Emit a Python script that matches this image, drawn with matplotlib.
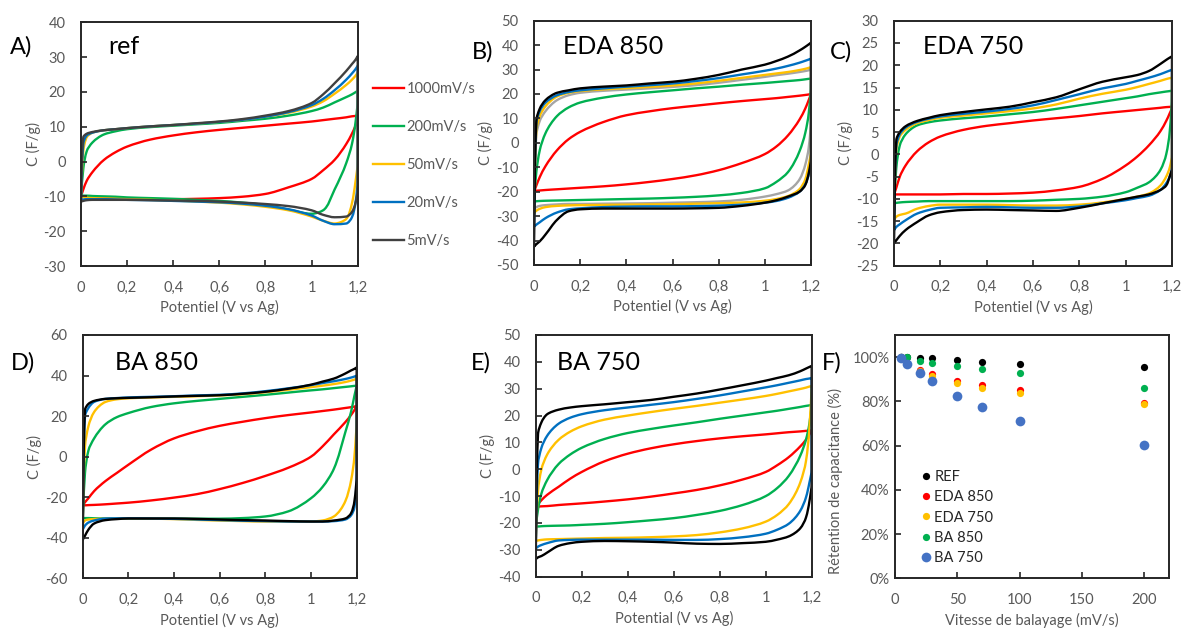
import matplotlib
matplotlib.use("Agg")
import numpy as np
import matplotlib.pyplot as plt
from matplotlib.ticker import FuncFormatter, MultipleLocator
from matplotlib.lines import Line2D
from matplotlib.path import Path
from matplotlib.patches import PathPatch

# ---------------- data ----------------
E = [0, 0.01, 0.025, 0.05, 0.1, 0.15, 0.2, 0.3, 0.4, 0.5, 0.6, 0.7, 0.8, 0.9,
     1.0, 1.05, 1.1, 1.15, 1.175, 1.19, 1.2]

rate_labels = ["1000mV/s", "200mV/s", "50mV/s", "20mV/s", "5mV/s"]

# Panel A : ref  (red, green, orange, blue, dark grey)
A_up = [
    [-10, -8, -5.5, -3, 0.5, 2.7, 4.3, 6.3, 7.5, 8.4, 9.1, 9.7, 10.3, 10.9, 11.5, 11.9, 12.3, 12.7, 13.0, 13.1, 13.2],
    [-10, -2, 3, 5.5, 7.8, 8.7, 9.3, 9.9, 10.3, 10.7, 11.1, 11.7, 12.3, 13.2, 14.5, 15.5, 17.0, 18.5, 19.3, 19.9, 20.3],
    [-10, 3, 7, 8.3, 9.0, 9.3, 9.6, 10.1, 10.5, 10.9, 11.4, 12.0, 12.9, 14.0, 15.8, 17.3, 19.5, 22.0, 23.5, 24.6, 25.5],
    [-11, 5, 7.5, 8.3, 9.0, 9.3, 9.6, 10.1, 10.5, 10.9, 11.4, 12.0, 12.9, 14.2, 16.2, 18.0, 20.5, 23.5, 25.3, 26.5, 27.5],
    [-11.5, 7, 8, 8.5, 9.0, 9.3, 9.6, 10.1, 10.5, 11.0, 11.5, 12.2, 13.2, 14.5, 16.8, 19.3, 22.5, 26.0, 28.0, 29.2, 30.3],
]
A_dn = [
    [-10, -10.1, -10.2, -10.3, -10.5, -10.6, -10.7, -10.8, -10.8, -10.7, -10.5, -10.1, -9.3, -7.4, -5.0, -2.5, 0.5, 5.0, 8.0, 10.2, 12.0],
    [-9.7, -9.8, -9.8, -9.9, -10.0, -10.1, -10.3, -10.5, -10.7, -11.0, -11.3, -11.8, -12.5, -13.8, -15.0, -14.0, -8.0, -0.5, 5.0, 11.0, 18.0],
    [-10.0, -10.2, -10.4, -10.5, -10.6, -10.7, -10.8, -11.0, -11.2, -11.5, -11.8, -12.3, -13.0, -14.0, -15.8, -17.0, -17.8, -16.5, -12.0, -6.0, 0],
    [-11.0, -10.9, -10.8, -10.8, -10.8, -10.9, -11.0, -11.1, -11.3, -11.5, -11.7, -12.1, -12.7, -13.7, -15.5, -17.0, -18.0, -17.8, -16.0, -12.0, -5.0],
    [-11.5, -11.3, -11.1, -11.0, -11.0, -11.0, -11.0, -11.1, -11.2, -11.3, -11.5, -11.8, -12.2, -12.8, -14.0, -15.3, -16.0, -15.8, -14.5, -12.0, -8.0],
]

# Panel B : EDA 850 (red, green, grey, orange, blue, black)
B_up = [
    [-20, -17.5, -14, -9.5, -3, 1.5, 4.5, 8.5, 11.3, 12.9, 14.2, 15.2, 16.2, 17.1, 17.9, 18.3, 18.8, 19.3, 19.6, 19.8, 20.0],
    [-24, -12, -3, 4, 11, 14.5, 16.5, 18.5, 19.8, 20.7, 21.5, 22.3, 23, 23.8, 24.5, 24.9, 25.3, 25.7, 26.0, 26.2, 26.3],
    [-27, 3, 9, 13, 17.5, 19.5, 20.5, 21.3, 21.8, 22.3, 22.9, 23.6, 24.6, 25.8, 27.0, 27.7, 28.3, 29.0, 29.4, 29.7, 30.0],
    [-29, 5, 11, 15, 19, 20.5, 21.2, 21.9, 22.4, 22.9, 23.5, 24.3, 25.4, 26.6, 27.8, 28.4, 29.0, 29.8, 30.3, 30.7, 31.0],
    [-34, 8, 13, 16.5, 19.5, 20.8, 21.5, 22.3, 23.0, 23.6, 24.3, 25.3, 26.5, 28.0, 29.5, 30.4, 31.5, 32.8, 33.6, 34.1, 34.5],
    [-42.5, 9, 14, 17.5, 20.5, 21.5, 22.3, 23.0, 23.5, 24.3, 25.0, 26.2, 27.8, 30.0, 32.0, 33.5, 35.3, 37.8, 39.3, 40.3, 41.0],
]
B_dn = [
    [-19.8, -19.6, -19.5, -19.3, -19.0, -18.7, -18.4, -17.8, -17.0, -16.0, -14.8, -13.3, -11.2, -8.3, -4.6, -1.5, 3.0, 9.5, 14.0, 17.5, 20.0],
    [-24, -23.9, -23.8, -23.7, -23.6, -23.5, -23.4, -23.2, -23.0, -22.8, -22.5, -22.1, -21.5, -20.5, -18.6, -16.0, -12.0, -3.5, 4.0, 12.0, 25.0],
    [-27, -26.3, -25.8, -25.5, -25.2, -25.0, -25.0, -24.9, -24.8, -24.7, -24.5, -24.3, -24.0, -23.3, -22.0, -21.0, -19.5, -15.0, -9.0, -2.0, 10.0],
    [-28.9, -27.8, -27.0, -26.3, -25.8, -25.6, -25.5, -25.4, -25.3, -25.2, -25.1, -24.9, -24.7, -24.4, -23.7, -23.0, -21.8, -19.0, -15.0, -9.0, -3.0],
    [-34.3, -33.5, -32.5, -30.8, -28.5, -27.2, -26.8, -26.3, -26.1, -26.0, -26.0, -25.9, -25.7, -25.3, -24.5, -23.8, -22.5, -20.0, -17.0, -13.0, -8.0],
    [-42.5, -41.5, -40.3, -37.5, -31.5, -28.0, -27.2, -26.9, -26.9, -26.9, -26.9, -26.8, -26.6, -25.8, -24.5, -23.5, -22.0, -20.0, -17.3, -12.5, -6.0],
]

# Panel C : EDA 750 (red, green, orange, blue, black)
C_up = [
    [-9, -7.5, -5, -2.5, 0.7, 2.7, 4, 5.5, 6.4, 7, 7.6, 8.1, 8.6, 9.2, 9.7, 9.95, 10.2, 10.45, 10.6, 10.65, 10.7],
    [-11, -3, 2, 4.5, 6.5, 7.2, 7.6, 8.1, 8.5, 9.0, 9.5, 10.2, 11.0, 11.8, 12.6, 13.0, 13.5, 13.9, 14.1, 14.2, 14.3],
    [-14.7, 1, 4, 5.5, 7, 7.7, 8.2, 8.7, 9.2, 9.7, 10.3, 11.2, 12.5, 13.6, 14.5, 15.1, 15.8, 16.5, 16.9, 17.1, 17.2],
    [-17, 2, 4.5, 6, 7.3, 8.0, 8.5, 9.1, 9.6, 10.2, 11.0, 12.2, 13.5, 14.8, 15.8, 16.5, 17.2, 18.0, 18.5, 18.8, 19.0],
    [-20, 3.2, 5, 6.3, 7.5, 8.2, 8.8, 9.5, 10.1, 10.7, 11.7, 12.8, 14.6, 16.3, 17.3, 17.8, 18.7, 20.3, 21.2, 21.7, 22.0],
]
C_dn = [
    [-9, -9, -9, -9, -9, -9, -9, -8.9, -8.9, -8.8, -8.6, -8.1, -7.3, -5.5, -2.5, -0.5, 2.0, 5.2, 7.5, 9.2, 10.6],
    [-11, -10.9, -10.8, -10.7, -10.6, -10.5, -10.5, -10.5, -10.5, -10.5, -10.4, -10.2, -10.0, -9.5, -8.5, -7.5, -6.3, -3.5, 0, 5, 14],
    [-14.7, -14.0, -13.6, -13.3, -12.2, -11.6, -11.3, -11.3, -11.3, -11.4, -11.5, -11.5, -11.3, -10.8, -10.0, -9.5, -8.8, -7.0, -5.0, -3.0, 0],
    [-17, -16.3, -15.7, -14.8, -13.3, -12.5, -12.0, -11.9, -11.8, -11.9, -12.0, -12.0, -11.7, -11.0, -10.3, -9.8, -9.3, -8.0, -6.5, -5.0, -3.0],
    [-20, -19.3, -18.3, -17, -15.2, -13.7, -13.0, -12.5, -12.4, -12.5, -12.6, -12.7, -12.0, -11.0, -10.0, -9.5, -9.0, -8.0, -7.0, -5.0, -3.0],
]

# Panel D : BA 850 (red, green, orange, blue, black)
D_up = [
    [-24, -22.5, -20.5, -17, -12, -8, -4, 3.5, 9, 12.5, 15.2, 17.2, 19, 20.5, 21.8, 22.5, 23.2, 24, 24.4, 24.7, 25],
    [-30, -8, 3, 9, 16, 19.5, 21.5, 24.5, 26.3, 27.5, 28.5, 29.5, 30.5, 31.6, 32.7, 33.2, 33.8, 34.4, 34.7, 34.9, 35],
    [-33, 5, 15, 22, 27, 28.3, 28.8, 29.2, 29.5, 29.8, 30.2, 30.8, 31.8, 33, 34.3, 35, 35.8, 36.8, 37.5, 38, 38.5],
    [-36, 20, 24, 27, 28.5, 28.9, 29.2, 29.5, 29.8, 30.2, 30.5, 31.2, 32.3, 33.7, 35.3, 36.3, 37.2, 38.3, 39.0, 39.5, 40],
    [-41, 23, 26, 27.5, 28.5, 28.8, 29, 29.3, 29.7, 30, 30.3, 31, 32, 33.5, 35.5, 37, 38.5, 41, 42.5, 43.3, 44],
]
D_dn = [
    [-24, -24, -23.9, -23.8, -23.5, -23.1, -22.7, -21.6, -20.2, -18.5, -16, -13, -9.5, -5.5, 0, 5, 11, 17, 20.5, 23, 25],
    [-30.3, -30.3, -30.3, -30.4, -30.5, -30.5, -30.5, -30.6, -30.6, -30.6, -30.6, -30.3, -29.5, -27, -20.5, -15, -6, 12, 22, 30, 35],
    [-33, -31.5, -31, -30.8, -30.6, -30.5, -30.5, -30.6, -30.8, -31.2, -31.5, -31.8, -32.0, -32.0, -32.0, -31.5, -29.5, -22, -12, 0, 20],
    [-36, -34, -32.5, -31.5, -30.5, -30.4, -30.4, -30.5, -30.7, -31.0, -31.3, -31.6, -31.8, -32.0, -32.0, -32.0, -31.8, -31, -29, -25, -10],
    [-41, -39, -36, -33, -31.3, -30.8, -30.5, -30.5, -30.5, -30.7, -31, -31.3, -31.5, -31.8, -32, -32, -31.5, -30.5, -28, -22, -8],
]

# Panel E : BA 750 (red, green, orange, blue, black)
E_up = [
    [-14, -13, -11.5, -9.5, -6.5, -3.5, -1, 3, 5.8, 7.8, 9.3, 10.5, 11.5, 12.3, 13, 13.4, 13.8, 14.1, 14.3, 14.4, 14.5],
    [-21.5, -15, -9, -4, 2, 5.5, 8, 11.3, 13.5, 15, 16.3, 17.5, 18.8, 20, 21.2, 21.8, 22.5, 23.2, 23.6, 23.8, 24],
    [-27, -8, 0, 5.5, 11, 14, 16, 18.5, 20, 21.3, 22.5, 23.6, 24.8, 26, 27.3, 28.1, 29, 29.9, 30.4, 30.8, 31],
    [-29.5, 2, 8, 12.5, 17, 19.2, 20.5, 22, 23, 24, 25, 26.2, 27.5, 29, 30.5, 31.3, 32.2, 33.1, 33.6, 33.8, 34],
    [-33.5, 13, 17.5, 20.5, 22.2, 23, 23.5, 24.2, 25, 25.8, 27, 28.2, 29.7, 31.3, 33, 34, 35, 36.5, 37.5, 38.1, 38.5],
]
E_dn = [
    [-14, -13.9, -13.8, -13.7, -13.3, -13.0, -12.7, -12.0, -11.2, -10.2, -9.0, -7.7, -6.0, -3.8, -1.0, 1.5, 4.5, 8.5, 11.0, 13.0, 14.5],
    [-21.3, -21.3, -21.2, -21.1, -21.0, -20.9, -20.7, -20.3, -19.7, -19.0, -18.2, -17.0, -15.5, -13.3, -10.0, -7.0, -2.5, 5.0, 11.0, 17.0, 24.0],
    [-26.8, -26.5, -26.3, -26.1, -26.0, -25.9, -25.8, -25.6, -25.5, -25.3, -25.0, -24.5, -23.5, -22.0, -19.5, -17.0, -13.0, -5.0, 3.0, 15.0, 31.0],
    [-29.5, -28.8, -28.2, -27.5, -26.5, -26.3, -26.2, -26.2, -26.2, -26.2, -26.3, -26.3, -26.0, -25.3, -24.0, -22.5, -20.3, -15.5, -10.5, -5.0, 0],
    [-33.5, -32.8, -32.3, -31, -28.5, -27.5, -27, -26.7, -26.8, -27, -27.3, -27.7, -27.8, -27.5, -27, -26.2, -25, -22, -18, -12, -5],
]

# Panel F : capacitance retention
scan_rates = [5, 10, 20, 30, 50, 70, 100, 200]
ret_REF = [1.0, 1.0, 0.995, 0.995, 0.988, 0.979, 0.970, 0.955]
ret_EDA850 = [1.0, 0.975, 0.944, 0.925, 0.893, 0.872, 0.850, 0.794]
ret_EDA750 = [1.0, 0.97, 0.935, 0.914, 0.881, 0.860, 0.838, 0.786]
ret_BA850 = [1.0, 1.0, 0.982, 0.973, 0.958, 0.947, 0.928, 0.860]
ret_BA750 = [0.997, 0.970, 0.928, 0.890, 0.826, 0.774, 0.713, 0.603]
ret_labels = ["REF", "EDA 850", "EDA 750", "BA 850", "BA 750"]

# ---------------- style ----------------
RED, GREEN, ORANGE, BLUE, BLACK, GREY, DKGREY = "#FF0000", "#00B050", "#FFC000", "#0070C0", "#000000", "#A5A5A5", "#404040"
TXT = "#595959"
FONT = ["Lato", "DejaVu Sans"]
plt.rcParams["font.family"] = FONT
plt.rcParams["axes.linewidth"] = 1.4
plt.rcParams["axes.edgecolor"] = "#262626"

W, H = 1184, 633
fig = plt.figure(figsize=(W / 100, H / 100), dpi=100)


def add_ax(left, right, top, bottom):
    return fig.add_axes([left / W, 1 - bottom / H, (right - left) / W, (bottom - top) / H])


def style_ax(ax, ystep, xlabel="Potentiel (V vs Ag)"):
    ax.xaxis.set_major_locator(MultipleLocator(0.2))
    ax.yaxis.set_major_locator(MultipleLocator(ystep))
    ax.xaxis.set_major_formatter(FuncFormatter(lambda v, p: ("%g" % round(v, 2)).replace(".", ",")))
    ax.yaxis.set_major_formatter(FuncFormatter(lambda v, p: "%g" % v))
    ax.tick_params(direction="in", length=4, width=1.2, colors="#262626", labelcolor=TXT,
                   labelsize=10.5, pad=10.5)
    ax.tick_params(axis="y", pad=11)
    ax.set_xlabel(xlabel, color=TXT, fontsize=10.5, labelpad=4)
    ax.set_ylabel("C (F/g)", color=TXT, fontsize=10.5, labelpad=2)


def _pchip_slopes(t, v):
    h = np.diff(t)
    d = np.diff(v) / h
    m = np.zeros_like(v)
    m[0], m[-1] = d[0], d[-1]
    for k in range(1, len(v) - 1):
        if d[k - 1] * d[k] <= 0:
            m[k] = 0.0
        else:
            w1 = 2 * h[k] + h[k - 1]
            w2 = h[k] + 2 * h[k - 1]
            m[k] = (w1 + w2) / (w1 / d[k - 1] + w2 / d[k])
    return m


def smooth_path(xs, ys, sx, sy):
    """Smooth (Excel-like) curve through the data points as cubic Bezier path."""
    x = np.asarray(xs, float)
    y = np.asarray(ys, float)
    keep = np.r_[True, (np.diff(x) != 0) | (np.diff(y) != 0)]
    x, y = x[keep], y[keep]
    t = np.r_[0, np.cumsum(np.hypot(np.diff(x) * sx, np.diff(y) * sy))]
    mx, my = _pchip_slopes(t, x), _pchip_slopes(t, y)
    verts = [(x[0], y[0])]
    codes = [Path.MOVETO]
    for k in range(len(x) - 1):
        h = t[k + 1] - t[k]
        verts += [(x[k] + h * mx[k] / 3, y[k] + h * my[k] / 3),
                  (x[k + 1] - h * mx[k + 1] / 3, y[k + 1] - h * my[k + 1] / 3),
                  (x[k + 1], y[k + 1])]
        codes += [Path.CURVE4] * 3
    return Path(verts, codes)


def draw_cv(ax, ups, dns, colors, ylim, wpx, hpx):
    ax.set_xlim(0, 1.2)
    ax.set_ylim(*ylim)
    sx = wpx / 1.2
    sy = hpx / (ylim[1] - ylim[0])
    for up, dn, c in zip(ups, dns, colors):
        xs = E + E[::-1] + [E[0]]
        ys = up + dn[::-1] + [up[0]]
        ax.add_patch(PathPatch(smooth_path(xs, ys, sx, sy), facecolor="none", edgecolor=c,
                               lw=1.7, joinstyle="round", capstyle="round"))


cols5 = [RED, GREEN, ORANGE, BLUE, BLACK]

# A
axA = add_ax(81, 357.7, 22.3, 266)
draw_cv(axA, A_up, A_dn, [RED, GREEN, ORANGE, BLUE, DKGREY], (-30, 40), 276.7, 243.7)
style_ax(axA, 10)
# B
axB = add_ax(534, 811, 20.7, 265)
draw_cv(axB, B_up, B_dn, [RED, GREEN, GREY, ORANGE, BLUE, BLACK], (-50, 50), 277, 244.3)
style_ax(axB, 10)
# C
axC = add_ax(894, 1172, 20.7, 265.7)
draw_cv(axC, C_up, C_dn, cols5, (-25, 30), 278, 245)
style_ax(axC, 5)
# D
axD = add_ax(82.7, 356.7, 335, 578.3)
draw_cv(axD, D_up, D_dn, cols5, (-60, 60), 274, 243.3)
style_ax(axD, 20)
# E
axE = add_ax(535.7, 811.7, 335, 576.7)
draw_cv(axE, E_up, E_dn, cols5, (-40, 50), 276, 241.7)
style_ax(axE, 10, xlabel="Potential (V vs Ag)")
# F
axF = add_ax(895, 1169.3, 335, 578.3)
f_series = [ret_REF, ret_EDA850, ret_EDA750, ret_BA850, ret_BA750]
f_cols = [BLACK, RED, ORANGE, GREEN, "#4472C4"]
f_sizes = [5.2, 5.2, 5.2, 5.2, 7.0]
for s, c, ms, lab in zip(f_series, f_cols, f_sizes, ret_labels):
    axF.plot(scan_rates, s, "o", color=c, ms=ms, mew=0, label=lab)
axF.set_xlim(0, 220)
axF.set_ylim(0, 1.1)
axF.xaxis.set_major_locator(MultipleLocator(50))
axF.set_yticks([0, 0.2, 0.4, 0.6, 0.8, 1.0])
axF.yaxis.set_major_formatter(FuncFormatter(lambda v, p: "%d%%" % round(v * 100)))
axF.tick_params(direction="in", length=4, width=1.2, colors="#262626", labelcolor=TXT,
                labelsize=10.5, pad=10.5)
axF.tick_params(axis="y", pad=4)
axF.set_xlabel("Vitesse de balayage (mV/s)", color=TXT, fontsize=10.5, labelpad=4)
axF.set_ylabel("Rétention de capacitance (%)", color=TXT, fontsize=10.5)
axF.yaxis.set_label_coords(-0.19, 0.40)
axF.legend(loc="upper left", bbox_to_anchor=((911 - 895) / 274.3, (578.3 - 463) / 243.3),
           frameon=False, fontsize=10.5, labelcolor="#262626", handletextpad=0.1,
           labelspacing=0.42, borderpad=0, handlelength=1.0)

# legend for A (outside right)
handles = [Line2D([], [], color=c, lw=1.7) for c in [RED, GREEN, ORANGE, BLUE, DKGREY]]
fig.legend(handles, rate_labels, loc="upper left", bbox_to_anchor=(373 / W, 1 - 82 / H),
           frameon=False, fontsize=10.5, labelcolor=TXT, handlelength=2.15,
           handletextpad=0.15, labelspacing=1.65, borderpad=0, borderaxespad=0)

# panel letters and titles
for lab, x, y in [("A)", 10, 47), ("B)", 472, 52), ("C)", 830, 52), ("D)", 11, 363), ("E)", 471, 363), ("F)", 822, 363)]:
    fig.text(x / W, 1 - y / H, lab, fontsize=17, va="center", ha="left", color="black")
for lab, x, y in [("ref", 108, 47), ("EDA 850", 563, 46), ("EDA 750", 923, 46), ("BA 850", 115, 362), ("BA 750", 557, 362)]:
    fig.text(x / W, 1 - y / H, lab, fontsize=18, va="center", ha="left", color="black")

fig.savefig("out.png", dpi=100)
